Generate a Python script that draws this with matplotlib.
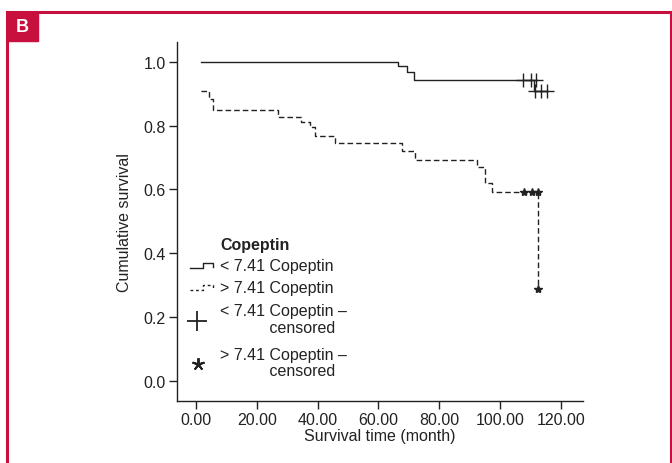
import matplotlib
matplotlib.use("Agg")
import matplotlib.pyplot as plt
from matplotlib.lines import Line2D
from matplotlib.patches import Rectangle
from matplotlib import font_manager

# ---- data ----
low_times = [1.6, 66.3, 69.3, 71.7, 111.2, 115.4]
low_surv = [1.0, 0.987, 0.967, 0.944, 0.909, 0.909]
low_cens_t = [107.7, 110.1, 112.0, 111.4, 113.4, 115.4]
low_cens_s = [0.944, 0.944, 0.944, 0.909, 0.909, 0.909]

high_times = [1.6, 4.4, 5.7, 27.1, 34.7, 37.5, 39.1, 45.7, 67.6, 72.0, 92.3, 95.1, 97.5, 112.6]
high_surv = [0.909, 0.883, 0.85, 0.826, 0.81, 0.795, 0.768, 0.744, 0.721, 0.693, 0.669, 0.62, 0.591, 0.287]
high_cens_t = [107.9, 110.4, 112.6, 112.6]
high_cens_s = [0.591, 0.591, 0.591, 0.287]

xticks = [0, 20, 40, 60, 80, 100, 120]
yticks = [0.0, 0.2, 0.4, 0.6, 0.8, 1.0]
legend_title = "Copeptin"
legend_labels = ["< 7.41 Copeptin", "> 7.41 Copeptin",
                 "< 7.41 Copeptin \u2013\n           censored",
                 "> 7.41 Copeptin \u2013\n           censored"]

avail = {f.name for f in font_manager.fontManager.ttflist}
fam = "Liberation Sans Narrow" if "Liberation Sans Narrow" in avail else "Liberation Sans"
plt.rcParams['font.family'] = [fam, 'DejaVu Sans']

RED = '#c8103f'
DARK = '#222222'

fig = plt.figure(figsize=(6.72, 4.64), dpi=100)
W, H = 672, 464

# red frame
fig.add_artist(Line2D([7/W, 7/W], [0, 1 - 13/H], color=RED, lw=2.2))
fig.add_artist(Line2D([7/W, 670.5/W], [1 - 13/H, 1 - 13/H], color=RED, lw=2.2))
fig.add_artist(Line2D([670.5/W, 670.5/W], [0, 1 - 13/H], color=RED, lw=2.2))
fig.add_artist(Rectangle((7/W, 1 - 42/H), 31/W, 29/H, color=RED, transform=fig.transFigure))
fig.text(22.5/W, 1 - 27.5/H, "B", color='white', fontsize=13, fontweight='bold',
         ha='center', va='center', family='Liberation Sans')

ax = fig.add_axes([177/W, 1 - 402/H, (582.7 - 177)/W, (402 - 43)/H])
ax.set_xlim(-6.25, 127.2)
ax.set_ylim(-0.064, 1.062)

ax.step(low_times, low_surv, where='post', color=DARK, lw=1.0)
ax.step(high_times, high_surv, where='post', color=DARK, lw=1.0, linestyle=(0, (4, 2.2)))
ax.plot(low_cens_t, low_cens_s, linestyle='none', marker='+', markersize=10,
        markeredgewidth=1.0, color=DARK)
ax.plot(high_cens_t, high_cens_s, linestyle='none', marker='*', markersize=6,
        color=DARK)

for s in ['top', 'right']:
    ax.spines[s].set_visible(False)
for s in ['left', 'bottom']:
    ax.spines[s].set_linewidth(1.0)
    ax.spines[s].set_color(DARK)

ax.set_xticks(xticks)
ax.set_xticklabels([f"{v:.2f}" for v in xticks])
ax.set_yticks(yticks)
ax.set_yticklabels([f"{v:.1f}" for v in yticks])
ax.tick_params(direction='out', length=6, width=1.0, color=DARK, labelsize=11.5,
               labelcolor=DARK, pad=2)
ax.set_xlabel("Survival time (month)", fontsize=11.5, color=DARK, labelpad=1)
ax.set_ylabel("Cumulative survival", fontsize=11.5, color=DARK, labelpad=8,
              family='Liberation Sans')

# ---- manual legend (pixel -> data transforms) ----
def px(x, y):
    return ax.transData.inverted().transform(fig.transFigure.transform((x / W, 1 - y / H)))

tx = 220
fsz = 11.5
x0, y0 = px(tx, 245)
ax.text(x0, y0, legend_title, fontsize=fsz, fontweight='bold', va='center', ha='left', color=DARK)

# entry 1: step icon solid
pts = [px(190, 269), px(203, 269), px(203, 264), px(213, 264), px(213, 268)]
ax.plot([p[0] for p in pts], [p[1] for p in pts], color=DARK, lw=1.0, clip_on=False)
x1, y1 = px(tx, 266.5)
ax.text(x1, y1, legend_labels[0], fontsize=fsz, va='center', ha='left', color=DARK)

# entry 2: step icon dashed
pts = [px(190, 291), px(203, 291), px(203, 286), px(213, 286), px(213, 290)]
ax.plot([p[0] for p in pts], [p[1] for p in pts], color=DARK, lw=1.0,
        linestyle=(0, (2, 2)), clip_on=False)
x2, y2 = px(tx, 288)
ax.text(x2, y2, legend_labels[1], fontsize=fsz, va='center', ha='left', color=DARK)

# entry 3: plus
mx, my = px(197, 321.5)
ax.plot([mx], [my], marker='+', markersize=15, markeredgewidth=1.3, color=DARK, clip_on=False)
x3, y3 = px(tx, 320)
ax.text(x3, y3, legend_labels[2], fontsize=fsz, va='center', ha='left', color=DARK,
        linespacing=1.1)

# entry 4: asterisk
mx, my = px(198, 365)
ax.plot([mx], [my], marker=(5, 2, 0), markersize=9, markeredgewidth=1.4, color=DARK,
        clip_on=False)
x4, y4 = px(tx, 363.5)
ax.text(x4, y4, legend_labels[3], fontsize=fsz, va='center', ha='left', color=DARK,
        linespacing=1.1)

fig.savefig("out.png", dpi=100)
